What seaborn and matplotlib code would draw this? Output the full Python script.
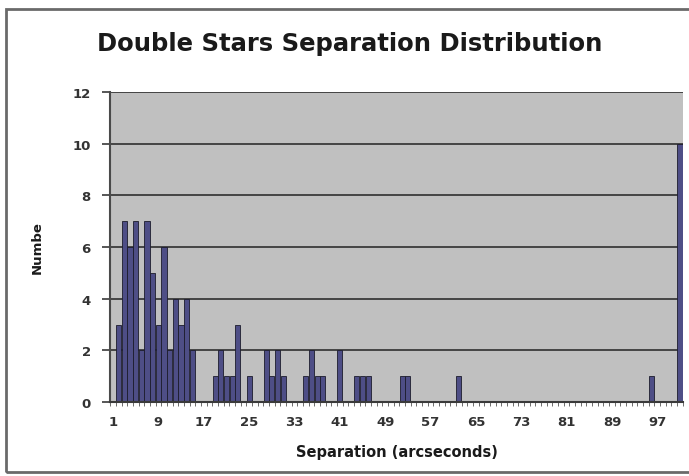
import seaborn as sns
import pandas as pd
import matplotlib.pyplot as plt
from matplotlib.patches import Rectangle

# histogram bins (Excel style: 1..100 then "More")
bins = [str(i) for i in range(1, 101)] + ["More"]

# bins that have stars in them
hit_bins = ["2", "3", "4", "5", "6", "7", "8", "9", "10", "11", "12", "13", "14", "15",
            "19", "20", "21", "22", "23", "25", "28", "29", "30", "31",
            "35", "36", "37", "38", "41", "44", "45", "46", "52", "53", "62", "96", "More"]
hit_counts = [3, 7, 6, 7, 2, 7, 5, 3, 6, 2, 4, 3, 4, 2,
              1, 2, 1, 1, 3, 1, 2, 1, 2, 1,
              1, 2, 1, 1, 2, 1, 1, 1, 1, 1, 1, 1, 10]

df = pd.DataFrame({"bin": bins})
df["count"] = df["bin"].map(dict(zip(hit_bins, hit_counts))).fillna(0)

fig = plt.figure(figsize=(6.89, 4.77), dpi=100)
ax = fig.add_axes([0.160, 0.155, 0.831, 0.650])

sns.barplot(data=df, x="bin", y="count", order=bins, color="#4e4e86",
            saturation=1, edgecolor="#1c1c2c", linewidth=0.6, width=0.92, ax=ax)

ax.set_facecolor("#c0c0c0")
ax.set_ylim(0, 12)
ax.set_yticks(range(0, 13, 2))
ax.yaxis.grid(True, color="#3a3a3a", linewidth=1.3)
ax.set_axisbelow(True)
ax.set_xlim(-0.5, 100.5)
ax.set_xticks(range(0, 101, 8))
ax.set_xticklabels(bins[0:101:8], fontweight="bold")
ax.set_yticklabels([str(v) for v in range(0, 13, 2)], fontweight="bold")
ax.set_xticks([i - 0.5 for i in range(102)], minor=True)
ax.tick_params(axis="x", which="major", length=0, pad=9, labelsize=9.5, labelcolor="#333333")
ax.tick_params(axis="x", which="minor", length=3, color="#555555")
ax.tick_params(axis="y", length=6, width=1.2, color="#3a3a3a", labelsize=9.5, labelcolor="#333333", pad=8)
for s in ["top", "right"]:
    ax.spines[s].set_visible(False)
ax.spines["left"].set_color("#4a4a4a")
ax.spines["left"].set_linewidth(1.5)
ax.spines["bottom"].set_color("#3a3a3a")
ax.spines["bottom"].set_linewidth(1.5)
ax.set_xlabel("")
ax.set_ylabel("")

fig.text(0.508, 0.908, "Double Stars Separation Distribution", ha="center", va="center",
         fontsize=17.5, fontweight="bold", color="#1a1a1a")
fig.text(0.576, 0.052, "Separation (arcseconds)", ha="center", va="center",
         fontsize=10.5, fontweight="bold", color="#1a1a1a")
fig.text(0.054, 0.48, "Numbe", ha="center", va="center", rotation=90,
         fontsize=9.5, fontweight="bold", color="#1a1a1a")

# outer chart frame
fig.patches.append(Rectangle((0.008, 0.008), 1.2, 0.97, transform=fig.transFigure,
                             fill=False, edgecolor="#6a6a6a", linewidth=2))

fig.savefig("out.png", dpi=100)
